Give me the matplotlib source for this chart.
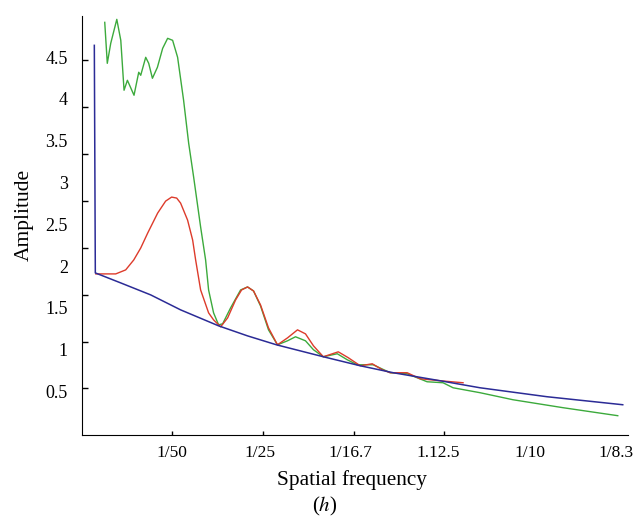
import numpy as np
import matplotlib.pyplot as plt

plt.rcParams['font.family'] = ['Liberation Serif', 'DejaVu Serif']
plt.rcParams['mathtext.fontset'] = 'stix'

# x in tick units (1 = 1/50, 2 = 1/25, ...), y in amplitude
blue_x = [0.139, 0.150, 0.431, 0.761, 1.091, 1.510, 1.829, 2.149, 2.666, 3.074,
          3.437, 3.955, 4.395, 5.133, 5.970]
blue_y = [4.640, 1.918, 1.798, 1.655, 1.476, 1.285, 1.165, 1.058, 0.915, 0.807,
          0.724, 0.628, 0.544, 0.437, 0.341]

red_x = [0.155, 0.375, 0.485, 0.574, 0.651, 0.728, 0.838, 0.926, 0.992, 1.048,
         1.091, 1.168, 1.224, 1.257, 1.312, 1.400, 1.455, 1.533, 1.610, 1.698,
         1.764, 1.830, 1.896, 1.973, 2.061, 2.160, 2.271, 2.381, 2.469, 2.557,
         2.666, 2.831, 2.942, 3.074, 3.206, 3.316, 3.404, 3.591, 3.734, 3.955, 4.208]
red_y = [1.906, 1.906, 1.954, 2.073, 2.216, 2.395, 2.634, 2.777, 2.825, 2.813,
         2.753, 2.550, 2.311, 2.073, 1.714, 1.440, 1.356, 1.273, 1.380, 1.595,
         1.714, 1.750, 1.702, 1.535, 1.261, 1.058, 1.141, 1.237, 1.189, 1.046,
         0.915, 0.974, 0.903, 0.807, 0.831, 0.760, 0.724, 0.724, 0.652, 0.628, 0.604]

green_x = [0.254, 0.282, 0.320, 0.387, 0.431, 0.467, 0.504, 0.577, 0.629, 0.651,
           0.706, 0.739, 0.780, 0.835, 0.893, 0.948, 1.003, 1.058, 1.124, 1.180,
           1.235, 1.312, 1.367, 1.400, 1.455, 1.510, 1.555, 1.643, 1.753, 1.830,
           1.896, 1.973, 2.061, 2.160, 2.271, 2.359, 2.469, 2.557, 2.666, 2.820,
           2.930, 3.040, 3.216, 3.404, 3.591, 3.811, 3.987, 4.098, 4.395, 4.758,
           5.309, 5.915]
green_y = [4.915, 4.425, 4.664, 4.951, 4.700, 4.103, 4.222, 4.043, 4.318, 4.282,
           4.497, 4.425, 4.246, 4.377, 4.604, 4.724, 4.700, 4.497, 3.984, 3.470,
           3.064, 2.467, 2.073, 1.714, 1.440, 1.297, 1.309, 1.500, 1.714, 1.750,
           1.702, 1.523, 1.237, 1.058, 1.106, 1.154, 1.106, 0.999, 0.915, 0.951,
           0.879, 0.819, 0.819, 0.724, 0.712, 0.616, 0.604, 0.544, 0.485, 0.401,
           0.306, 0.210]

x_labels = ['1/50', '1/25', '1/16.7', '1.12.5', '1/10', '1/8.3']
y_labels = ['0.5', '1', '1.5', '2', '2.5', '3', '3.5', '4', '4.5']
y_label_vals = [0.5, 1, 1.5, 2, 2.5, 3, 3.5, 4, 4.5]
# tick marks in the original sit slightly apart from their labels
x_mark_vals = [1, 2, 3, 4]
x_label_pos = [1.0, 1.97, 2.96, 3.93, 4.95, 5.90]
y_mark_vals = [0.541, 1.097, 1.655, 2.216, 2.773, 3.339, 3.903, 4.461]

fig = plt.figure(figsize=(6.41, 5.19), dpi=100)
ax = fig.add_axes([0.1275, 0.162, 0.8525, 0.807])

ax.plot(green_x, green_y, color='#3caa3c', lw=1.0)
ax.plot(red_x, red_y, color='#dd3b2b', lw=1.0)
ax.plot(blue_x, blue_y, color='#2b2b96', lw=1.1)

ax.set_xlim(0, 6.03)
ax.set_ylim(-0.02, 4.99)

ax.spines['top'].set_visible(False)
ax.spines['right'].set_visible(False)

# keep label-only minor ticks even where they coincide with marks
ax.xaxis.remove_overlapping_locs = False
ax.yaxis.remove_overlapping_locs = False

ax.set_xticks(x_mark_vals)
ax.set_xticklabels([])
ax.set_xticks(x_label_pos, minor=True)
ax.set_xticklabels(x_labels, minor=True)
ax.tick_params(axis='x', which='major', direction='in', length=3, width=1)
ax.tick_params(axis='x', which='minor', length=0, pad=7, labelsize=12.5)

ax.set_yticks(y_mark_vals)
ax.set_yticklabels([])
ax.set_yticks(y_label_vals, minor=True)
ax.set_yticklabels(y_labels, minor=True)
ax.tick_params(axis='y', which='major', direction='in', length=4, width=1)
ax.tick_params(axis='y', which='minor', length=0, pad=10, labelsize=13)

fig.text(0.549, 0.075, 'Spatial frequency', ha='center', va='center', fontsize=15.3)
fig.text(0.038, 0.586, 'Amplitude', ha='center', va='center', rotation=90, fontsize=15.5)
fig.text(0.507, 0.024, '($h$)', ha='center', va='center', fontsize=15)

fig.savefig('out.png', dpi=100)
